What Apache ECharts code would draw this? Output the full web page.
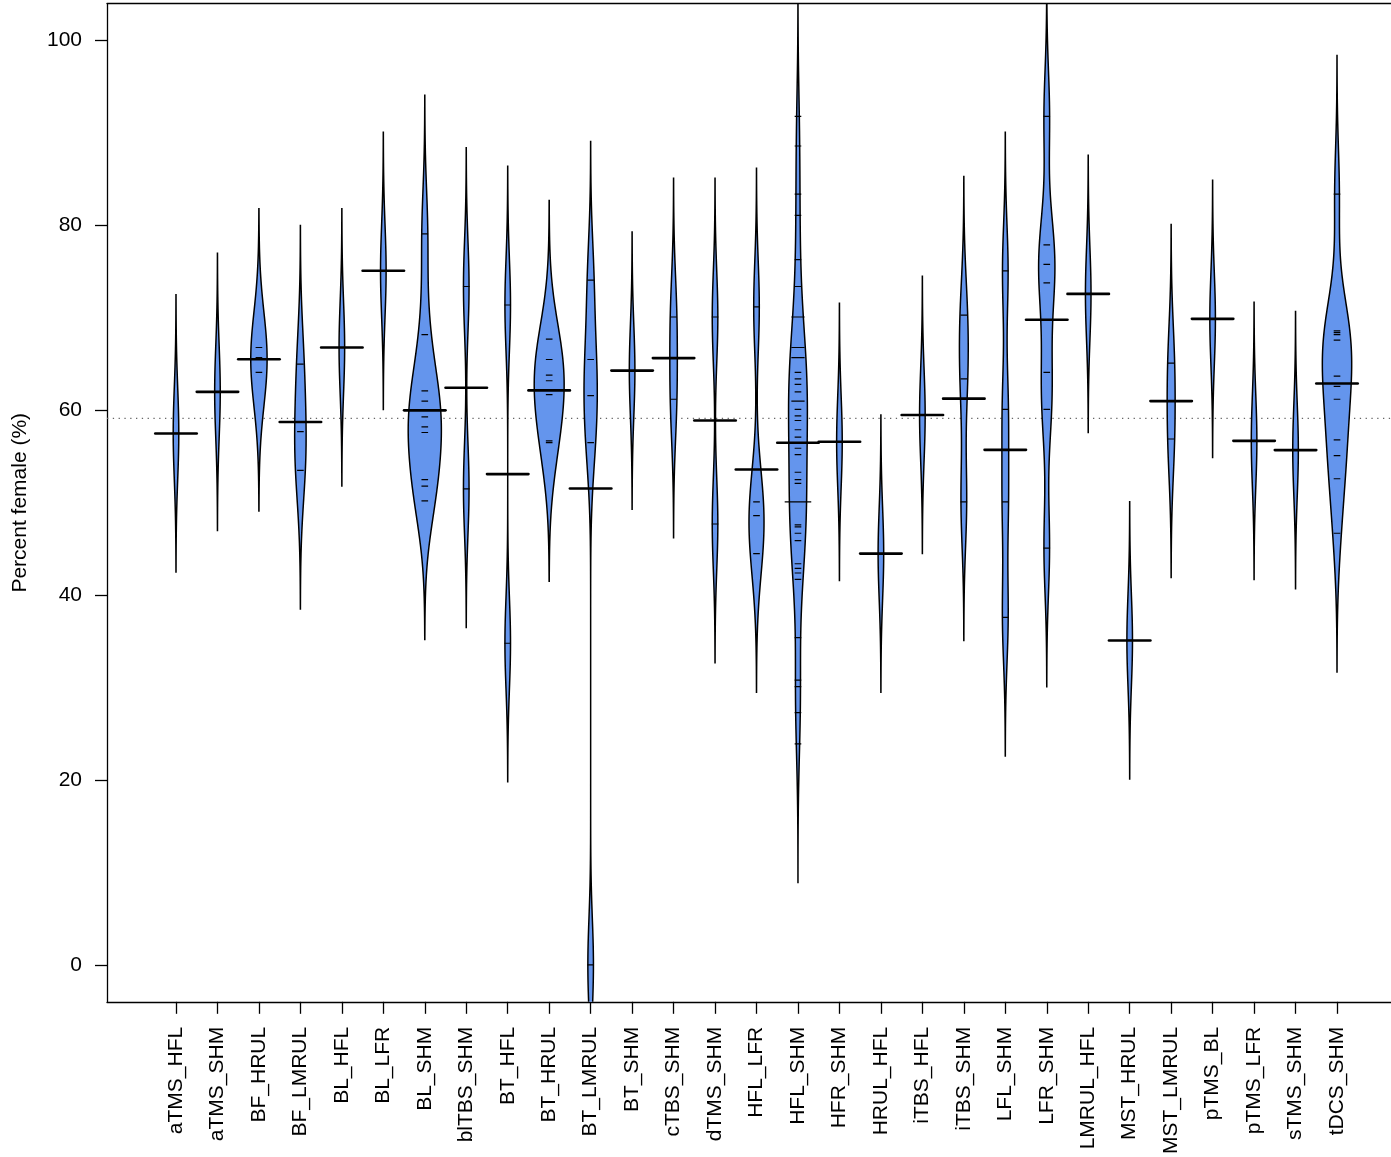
<!DOCTYPE html>
<html><head><meta charset="utf-8">
<script src="https://cdn.jsdelivr.net/npm/echarts@6/dist/echarts.min.js"></script>
<style>html,body{margin:0;padding:0;background:#fff}#c{width:1391px;height:1157px}</style>
</head><body><div id="c"></div>
<script>
// ---- categories ----
const categories = ['aTMS_HFL','aTMS_SHM','BF_HRUL','BF_LMRUL','BL_HFL','BL_LFR','BL_SHM','blTBS_SHM','BT_HFL','BT_HRUL','BT_LMRUL','BT_SHM','cTBS_SHM','dTMS_SHM','HFL_LFR','HFL_SHM','HFR_SHM','HRUL_HFL','iTBS_HFL','iTBS_SHM','LFL_SHM','LFR_SHM','LMRUL_HFL','MST_HRUL','MST_LMRUL','pTMS_BL','pTMS_LFR','sTMS_SHM','tDCS_SHM'];

// ---- observations per bean (percent female) ----
const aTMS_HFL  = [57.5];
const aTMS_SHM  = [62.0];
const BF_HRUL   = [64.1, 65.7, 66.8];
const BF_LMRUL  = [65.0, 57.7, 53.5];
const BL_HFL    = [66.8];
const BL_LFR    = [75.1];
const BL_SHM    = [79.1, 68.2, 62.1, 61.0, 59.3, 58.2, 57.6, 52.5, 51.8, 50.2];
const blTBS_SHM = [73.4, 51.5];
const BT_HFL    = [71.4, 34.8];
const BT_HRUL   = [67.7, 65.5, 63.8, 63.2, 61.7, 56.7, 56.5];
const BT_LMRUL  = [74.1, 65.5, 61.6, 56.5, 0];
const BT_SHM    = [64.3];
const cTBS_SHM  = [70.1, 61.2];
const dTMS_SHM  = [70.1, 47.7];
const HFL_LFR   = [71.2, 50.1, 48.6, 44.5];
const HFL_SHM   = [91.8, 88.6, 83.4, 81.1, 76.3, 73.4, 70.1, 70.1, 66.8, 66.8, 65.7, 65.7, 64.1, 63.4, 62.8, 62.0, 61.0, 61.0, 60.1, 59.4, 58.9, 57.9, 57.1, 55.9, 55.2, 53.3, 52.5, 52.1, 50.1, 50.1, 50.1, 50.1, 47.6, 47.4, 46.7, 45.9, 43.4, 42.9, 42.4, 41.7, 35.4, 30.8, 30.1, 27.3, 23.9];
const HFR_SHM   = [56.6];
const HRUL_HFL  = [44.5];
const iTBS_HFL  = [59.5];
const iTBS_SHM  = [70.3, 63.4, 50.1];
const LFL_SHM   = [75.1, 60.1, 50.1, 37.6];
const LFR_SHM   = [91.8, 77.9, 75.8, 73.8, 64.1, 60.1, 45.1];
const LMRUL_HFL = [72.6];
const MST_HRUL  = [35.1];
const MST_LMRUL = [65.1, 56.9];
const pTMS_BL   = [69.9];
const pTMS_LFR  = [56.7];
const sTMS_SHM  = [55.7];
const tDCS_SHM  = [83.4, 68.6, 68.4, 68.2, 67.6, 63.7, 62.6, 61.2, 56.8, 55.1, 52.6, 46.7];

const beans = [aTMS_HFL, aTMS_SHM, BF_HRUL, BF_LMRUL, BL_HFL, BL_LFR, BL_SHM, blTBS_SHM, BT_HFL, BT_HRUL, BT_LMRUL, BT_SHM, cTBS_SHM, dTMS_SHM, HFL_LFR, HFL_SHM, HFR_SHM, HRUL_HFL, iTBS_HFL, iTBS_SHM, LFL_SHM, LFR_SHM, LMRUL_HFL, MST_HRUL, MST_LMRUL, pTMS_BL, pTMS_LFR, sTMS_SHM, tDCS_SHM];

// ---- tick values ----
const yTicks = [0, 20, 40, 60, 80, 100];
const xPositions = categories.map((c, i) => i + 1);

// ---- beanplot parameters ----
const BW = 5, CUT = 3, GROWNAGE = 10, MAXWIDTH = 0.8, LL = 0.16, AVGHALF = 0.5, NSTEP = 300;
const XMIN = -0.664, XMAX = 30.302, YMIN = -4, YMAX = 104;
const FILL = '#6495ED';
const FONT = 'Liberation Sans, Arial, Helvetica, sans-serif';
const FS = 21;

function dens(xs, y) {
  let s = 0;
  for (const x of xs) { const z = (y - x) / BW; s += Math.exp(-0.5 * z * z); }
  return s / (xs.length * BW * Math.sqrt(2 * Math.PI)) * Math.min(xs.length, GROWNAGE) / GROWNAGE;
}
function range(xs) { return [Math.min(...xs) - CUT * BW, Math.max(...xs) + CUT * BW]; }
let maxDens = 0;
beans.forEach(xs => {
  const [lo, hi] = range(xs);
  for (let k = 0; k <= NSTEP; k++) { const d = dens(xs, lo + (hi - lo) * k / NSTEP); if (d > maxDens) maxDens = d; }
});
const all = beans.flat();
const overallMean = all.reduce((a, b) => a + b, 0) / all.length;

function renderBean(params, api) {
  const i = params.dataIndex;
  const pos = api.value(0);
  const xs = beans[i];
  const [lo, hi] = range(xs);
  const left = [], right = [];
  for (let k = 0; k <= NSTEP; k++) {
    const y = lo + (hi - lo) * k / NSTEP;
    const w = dens(xs, y) / maxDens * MAXWIDTH / 2;
    left.push(api.coord([pos - w, y]));
    right.push(api.coord([pos + w, y]));
  }
  const pts = left.concat(right.reverse());
  const children = [{
    type: 'polygon', shape: { points: pts },
    style: { fill: FILL, stroke: '#000', lineWidth: 1.5 }
  }];
  const counts = new Map();
  xs.forEach(v => counts.set(v, (counts.get(v) || 0) + 1));
  counts.forEach((c, v) => {
    const a = api.coord([pos - c * LL / 2, v]), b = api.coord([pos + c * LL / 2, v]);
    children.push({ type: 'line', shape: { x1: a[0], y1: a[1], x2: b[0], y2: b[1] },
      style: { stroke: '#000', lineWidth: 1.2 } });
  });
  const m = xs.reduce((p, q) => p + q, 0) / xs.length;
  const a = api.coord([pos - AVGHALF, m]), b = api.coord([pos + AVGHALF, m]);
  children.push({ type: 'line', shape: { x1: a[0], y1: a[1], x2: b[0], y2: b[1] },
    style: { stroke: '#000', lineWidth: 2.6, lineCap: 'round' } });
  return { type: 'group', children };
}

const chart = echarts.init(document.getElementById('c'), null, { renderer: 'canvas' });
chart.setOption({
  animation: false,
  backgroundColor: '#fff',
  grid: { left: 107, right: 0, top: 3.7, bottom: 154.3 },
  xAxis: [{
    type: 'value', position: 'bottom', min: XMIN, max: XMAX,
    axisLine: { show: true, onZero: false, lineStyle: { color: '#000', width: 1.3 } },
    axisTick: { show: true, customValues: xPositions, length: 12, lineStyle: { color: '#000', width: 1.3 } },
    axisLabel: { customValues: xPositions, rotate: 90, margin: 25, fontSize: FS, color: '#000', fontFamily: FONT,
      formatter: v => categories[Math.round(v) - 1] },
    splitLine: { show: false }
  }, {
    type: 'value', position: 'top', min: XMIN, max: XMAX,
    axisLine: { show: true, onZero: false, lineStyle: { color: '#000', width: 1.3 } },
    axisTick: { show: false }, axisLabel: { show: false }, splitLine: { show: false }
  }],
  yAxis: {
    type: 'value', min: YMIN, max: YMAX, position: 'left',
    axisLine: { show: true, onZero: false, lineStyle: { color: '#000', width: 1.3 } },
    axisTick: { show: true, customValues: yTicks, length: 12, lineStyle: { color: '#000', width: 1.3 } },
    axisLabel: { customValues: yTicks, margin: 25, fontSize: FS, color: '#000', fontFamily: FONT },
    splitLine: { show: false },
    name: 'Percent female (%)', nameLocation: 'middle', nameGap: 76,
    nameTextStyle: { fontSize: FS, color: '#000', fontFamily: FONT }
  },
  series: [{
    type: 'line', z: 1, symbol: 'none', silent: true,
    data: [[XMIN, overallMean], [XMAX, overallMean]],
    lineStyle: { color: '#666', width: 1.3, type: [1.3, 4.5] }
  }, {
    type: 'custom', z: 2, clip: true,
    data: xPositions.map((p, i) => [p, i]),
    encode: { x: 0, y: 1 },
    renderItem: renderBean
  }]
});
</script></body></html>
